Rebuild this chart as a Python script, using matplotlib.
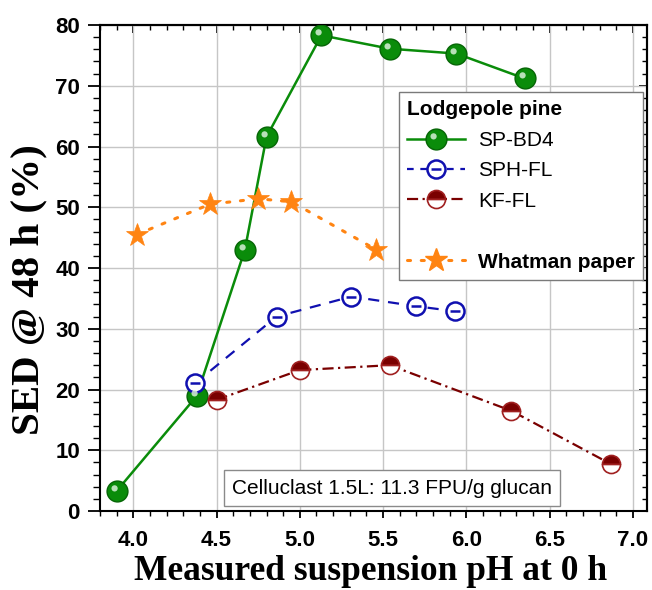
import matplotlib
matplotlib.use("Agg")
import matplotlib.pyplot as plt
import numpy as np
from matplotlib.path import Path
from matplotlib.lines import Line2D
from matplotlib.ticker import MultipleLocator

# ---- data ----
sp_bd4_x = [3.90, 4.38, 4.67, 4.80, 5.13, 5.54, 5.94, 6.35]
sp_bd4_y = [3.3, 18.9, 43.0, 61.6, 78.3, 76.1, 75.3, 71.2]

sph_fl_x = [4.37, 4.86, 5.31, 5.70, 5.93]
sph_fl_y = [21.0, 32.0, 35.3, 33.7, 32.9]

kf_fl_x = [4.50, 5.00, 5.54, 6.27, 6.87]
kf_fl_y = [18.3, 23.2, 24.0, 16.5, 7.7]

whatman_x = [4.02, 4.46, 4.75, 4.95, 5.46]
whatman_y = [45.5, 50.5, 51.4, 50.9, 43.0]

x_ticks = [4.0, 4.5, 5.0, 5.5, 6.0, 6.5, 7.0]
y_ticks = [0, 10, 20, 30, 40, 50, 60, 70, 80]

legend_title = "Lodgepole pine"
series_labels = ["SP-BD4", "SPH-FL", "KF-FL", "Whatman paper"]
annotation = "Celluclast 1.5L: 11.3 FPU/g glucan"
xlabel = "Measured suspension pH at 0 h"
ylabel = "SED @ 48 h (%)"

# ---- styling ----
green = "#0a8c0a"
green_edge = "#056505"
blue = "#1010b0"
red = "#7a0000"
orange = "#ff8412"

sans = ["Liberation Sans", "DejaVu Sans"]
serif = ["Liberation Serif", "DejaVu Serif"]

# custom markers
theta_marker = Path.make_compound_path(
    Path.unit_circle(),
    Path([(-0.55, 0.0), (0.55, 0.0)], [Path.MOVETO, Path.LINETO]),
)
_hl = Path.circle(center=(-0.28, 0.30), radius=0.30)
highlight_marker = Path.make_compound_path(
    Path([(-1, -1), (1, 1)], [Path.MOVETO, Path.MOVETO]), _hl
)

fig = plt.figure(figsize=(6.52, 5.90), dpi=100)
ax = fig.add_axes([0.1534, 0.1339, 0.8389, 0.8237])

ax.set_xlim(3.8, 7.085)
ax.set_ylim(0, 80)
ax.set_xticks(x_ticks)
ax.set_yticks(y_ticks)
ax.xaxis.set_minor_locator(MultipleLocator(0.1))
ax.yaxis.set_minor_locator(MultipleLocator(2))
ax.grid(True, which="major", color="#c6c6c6", lw=1.0, zorder=0)
ax.set_axisbelow(True)

# SP-BD4
ax.plot(sp_bd4_x, sp_bd4_y, "-", color=green, lw=1.8, marker="o", ms=15,
        mfc=green, mec=green_edge, mew=1.0, zorder=5)
ax.plot(sp_bd4_x, sp_bd4_y, ls="none", marker=highlight_marker, ms=15,
        mfc="#d8f0d8", mec="none", alpha=0.85, zorder=6)

# SPH-FL
ax.plot(sph_fl_x, sph_fl_y, ls=(0, (5, 4)), color=blue, lw=1.6, zorder=4)
ax.plot(sph_fl_x, sph_fl_y, ls="none", marker=theta_marker, ms=13,
        mfc="white", mec=blue, mew=1.8, zorder=5)

# KF-FL
ax.plot(kf_fl_x, kf_fl_y, ls=(0, (5, 2, 1, 2)), color=red, lw=1.6,
        marker="o", ms=13, fillstyle="top", mfc=red, mfcalt="white",
        mec="#a02020", mew=1.2, zorder=5)

# Whatman paper
ax.plot(whatman_x, whatman_y, ls=(0, (1, 3.5)), color=orange, lw=2.2,
        dash_capstyle="round", marker="*", ms=17, mfc=orange, mec=orange,
        mew=0.5, zorder=5)

# ticks
ax.tick_params(axis="both", which="both", direction="out")
ax.tick_params(axis="both", which="major", width=1.3, labelsize=16)
ax.tick_params(axis="both", which="minor", width=1.0)
ax.tick_params(axis="x", which="major", length=5, pad=9)
ax.tick_params(axis="x", which="minor", length=3.5)
ax.tick_params(axis="y", which="major", length=9, pad=5.5)
ax.tick_params(axis="y", which="minor", length=5)
for lab in ax.get_xticklabels() + ax.get_yticklabels():
    lab.set_fontfamily(sans)
    lab.set_fontweight("bold")

# top/right mirrored ticks (inward)
axt = ax.secondary_xaxis("top")
axt.set_xticks(x_ticks)
axt.xaxis.set_minor_locator(MultipleLocator(0.1))
axt.tick_params(which="major", direction="in", length=6, width=1.3)
axt.tick_params(which="minor", direction="in", length=3.5, width=1.0)
axt.set_xticklabels([])
axr = ax.secondary_yaxis("right")
axr.set_yticks(y_ticks)
axr.yaxis.set_minor_locator(MultipleLocator(2))
axr.tick_params(which="major", direction="in", length=6, width=1.3)
axr.tick_params(which="minor", direction="in", length=3.5, width=1.0)
axr.set_yticklabels([])

for sp in ax.spines.values():
    sp.set_linewidth(1.5)
for a in (axt, axr):
    for sp in a.spines.values():
        sp.set_linewidth(1.5)

ax.set_xlabel(xlabel, fontfamily=serif, fontweight="bold", fontsize=25.5)
ax.set_ylabel(ylabel, fontfamily=serif, fontweight="bold", fontsize=29.5)
ax.xaxis.set_label_coords(0.494, -0.1255)
ax.xaxis.label.set_va("center")
ax.yaxis.set_label_coords(-0.130, 0.455)
ax.yaxis.label.set_va("center")

# annotation box
ax.text(0.534, 0.047, annotation, transform=ax.transAxes, ha="center",
        va="center", fontsize=15, fontfamily=sans, zorder=10,
        bbox=dict(boxstyle="square,pad=0.4", fc="white", ec="#8a8a8a", lw=1.0))

# legend
h_sp = (Line2D([], [], color=green, lw=1.8, marker="o", ms=15, mfc=green,
               mec=green_edge),
        Line2D([], [], ls="none", marker=highlight_marker, ms=15,
               mfc="#d8f0d8", mec="none", alpha=0.85))
h_sph = Line2D([], [], ls=(0, (3, 3)), color=blue, lw=1.6, marker=theta_marker,
               ms=13, mfc="white", mec=blue, mew=1.8)
h_kf = Line2D([], [], ls=(0, (5, 2, 1, 2)), color=red, lw=1.6,
              marker="o", ms=13, fillstyle="top", mfc=red, mfcalt="white",
              mec="#a02020", mew=1.2)
h_blank = Line2D([], [], ls="none")
h_wh = Line2D([], [], ls=(0, (1, 3.5)), color=orange, lw=2.2, marker="*", ms=17,
              mfc=orange, mec=orange, dash_capstyle="round")

leg = ax.legend([h_sp, h_sph, h_kf, h_blank, h_wh],
                [series_labels[0], series_labels[1], series_labels[2], " ",
                 series_labels[3]],
                title=legend_title, loc="upper right",
                bbox_to_anchor=(0.9927, 0.862), frameon=True, fancybox=False,
                framealpha=1, edgecolor="#7a7a7a", handlelength=2.8,
                handletextpad=0.6, labelspacing=0.55, borderpad=0.4,
                borderaxespad=0.0,
                prop={"family": sans, "size": 15},
                title_fontproperties={"family": sans, "size": 15, "weight": "bold"})
leg._legend_box.align = "left"
leg.get_frame().set_linewidth(1.0)
leg.set_zorder(20)
for t in leg.get_texts():
    if t.get_text() == series_labels[3]:
        t.set_fontweight("bold")

fig.savefig("out.png", dpi=100)
